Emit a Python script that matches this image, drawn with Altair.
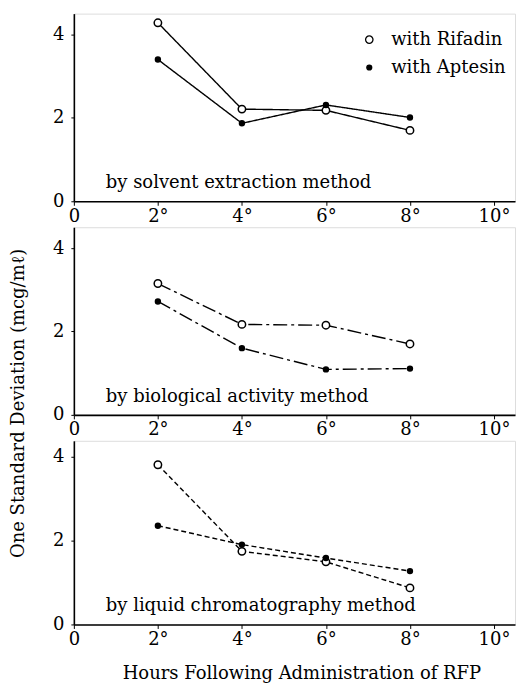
import altair as alt
import pandas as pd

hours = [2, 4, 6, 8]
series = ["with Rifadin", "with Aptesin"]
solvent_rifadin = [4.28, 2.21, 2.18, 1.70]
solvent_aptesin = [3.40, 1.87, 2.31, 2.01]
bio_rifadin = [3.15, 2.17, 2.15, 1.70]
bio_aptesin = [2.72, 1.60, 1.09, 1.11]
lc_rifadin = [3.80, 1.74, 1.49, 0.87]
lc_aptesin = [2.35, 1.90, 1.58, 1.27]
methods = ["by solvent extraction method",
           "by biological activity method",
           "by liquid chromatography method"]
x_ticks = [0, 2, 4, 6, 8, 10]
y_ticks = [0, 2, 4]

FONT = "DejaVu Serif"
FS = 18
W = 442


def panel(rif, apt, method, dash, height, ymax, legend=False, xtitle=False, ytitle=False):
    df = pd.DataFrame({
        "hour": hours * 2,
        "sd": rif + apt,
        "series": [series[0]] * len(hours) + [series[1]] * len(hours),
    })
    xaxis_kw = dict(values=x_ticks,
                    labelExpr="datum.value == 0 ? '0' : datum.value + '°'",
                    grid=False, domainColor="black", domainWidth=1.6,
                    tickColor="black", tickSize=4, labelPadding=2,
                    labelFont=FONT, labelFontSize=FS, labelColor="black",
                    labelFlush=False, labelOverlap=False)
    if xtitle:
        xaxis_kw.update(title="Hours Following Administration of RFP",
                        titleFont=FONT, titleFontSize=FS, titleFontWeight="normal",
                        titleColor="black", titleX=228, titleY=49,
                        titleAlign="center", titleBaseline="middle")
    else:
        xaxis_kw.update(title="")
    yaxis_kw = dict(values=y_ticks, grid=False, domainColor="black", domainWidth=1.6,
                    tickColor="black", tickSize=3, labelPadding=7,
                    labelFont=FONT, labelFontSize=FS, labelColor="black",
                    labelFlush=False, labelOverlap=False)
    if ytitle:
        yaxis_kw.update(title="One Standard Deviation (mcg/mℓ)",
                        titleFont=FONT, titleFontSize=FS, titleFontWeight="normal",
                        titleColor="black", titleX=-55, titleY=176, titleAngle=-90,
                        titleAlign="center", titleBaseline="middle")
    else:
        yaxis_kw.update(title="")

    x = alt.X("hour:Q", scale=alt.Scale(domain=[0, 10.5], nice=False, zero=False),
              axis=alt.Axis(**xaxis_kw))
    y = alt.Y("sd:Q", scale=alt.Scale(domain=[0, ymax], nice=False),
              axis=alt.Axis(**yaxis_kw))

    base = alt.Chart(df)
    lines = base.mark_line(color="black", strokeWidth=1.4,
                           strokeDash=dash).encode(x=x, y=y, detail="series:N")

    if legend:
        leg = alt.Legend(title=None, orient="none", legendX=287, legendY=17,
                         labelFont=FONT, labelFontSize=FS, labelColor="black",
                         labelOffset=13, rowPadding=10,
                         symbolStrokeColor="black", symbolStrokeWidth=1.3)
    else:
        leg = None
    fill_enc = alt.Fill("series:N", scale=alt.Scale(domain=series, range=["white", "black"]),
                        legend=leg)
    size_enc = alt.Size("series:N", scale=alt.Scale(domain=series, range=[55, 24]),
                        legend=leg)
    stroke_enc = alt.Stroke("series:N", scale=alt.Scale(domain=series, range=["black", "black"]),
                            legend=leg)

    pts = base.mark_point(filled=True, strokeWidth=1.5, shape="circle",
                          opacity=1).encode(x=x, y=y, fill=fill_enc, size=size_enc,
                                            stroke=stroke_enc)

    label = alt.Chart(pd.DataFrame({"label": [method]})).mark_text(
        align="left", baseline="middle", font=FONT, fontSize=FS, color="black"
    ).encode(text="label:N", x=alt.value(32), y=alt.value(height - 18))

    return alt.layer(lines, pts, label).properties(width=W, height=height)


p1 = panel(solvent_rifadin, solvent_aptesin, methods[0], [1, 0], 188, 4.5, legend=True)
p2 = panel(bio_rifadin, bio_aptesin, methods[1], [14, 4, 3, 4], 188, 4.5, ytitle=True)
p3 = panel(lc_rifadin, lc_aptesin, methods[2], [5, 3], 184, 4.37, xtitle=True)

chart = alt.vconcat(p1, p2, p3, spacing=26, bounds="flush").properties(
    padding={"left": 9, "top": 12, "right": 0, "bottom": 0},
).configure_view(stroke=None).configure(background="white")

chart.save("out.html", embed_options={"renderer": "svg", "actions": False})
